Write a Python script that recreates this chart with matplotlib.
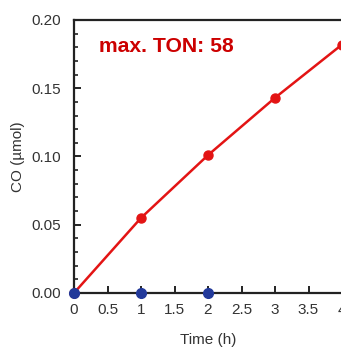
import matplotlib
matplotlib.use("Agg")
import matplotlib.pyplot as plt
from matplotlib.ticker import MultipleLocator

plt.rcParams['font.family'] = ['Liberation Sans', 'DejaVu Sans']

time_h = [0, 1, 2, 3, 4]
co_red = [0.0, 0.055, 0.101, 0.143, 0.182]
time_blue = [0, 1, 2]
co_blue = [0.0, 0.0, 0.0]
x_ticks = [0, 0.5, 1, 1.5, 2, 2.5, 3, 3.5, 4]
y_ticks = [0.00, 0.05, 0.10, 0.15, 0.20]

fig = plt.figure(figsize=(3.41, 3.47), dpi=100)
ax = fig.add_axes([74/341, 54/347, 268/341, 273/347])

red = '#e31414'
blue = '#22399a'
ax.plot(time_h, co_red, color=red, lw=1.8, marker='o', ms=6.5, clip_on=False, zorder=3)
ax.plot(time_blue, co_blue, color=blue, lw=0, marker='o', ms=7, clip_on=False, zorder=4)

ax.set_xlim(0, 4)
ax.set_ylim(0, 0.20)
ax.set_xticks(x_ticks)
ax.set_xticklabels([f"{v:g}" for v in x_ticks])
ax.set_yticks(y_ticks)
ax.set_yticklabels([f"{v:.2f}" for v in y_ticks])
ax.yaxis.set_minor_locator(MultipleLocator(0.01))

for s in ['left', 'bottom', 'top']:
    ax.spines[s].set_linewidth(1.6)
    ax.spines[s].set_color('#222222')
ax.spines['right'].set_visible(False)

ax.tick_params(axis='both', which='major', direction='in', length=5, width=1.4,
               labelsize=11, colors='#222222', labelcolor='#333333')
ax.tick_params(axis='y', which='minor', direction='in', length=3, width=1.2, colors='#222222')
ax.tick_params(axis='x', which='major', length=5, pad=7)
ax.tick_params(axis='y', pad=9)
ax.tick_params(top=False, right=False, which='both')

ax.set_xlabel('Time (h)', fontsize=11, color='#333333', labelpad=12)
ax.set_ylabel('CO (µmol)', fontsize=11, color='#333333', labelpad=5)

ax.text(0.37, 0.1805, 'max. TON: 58', color='#cc0000', fontsize=15.2, fontweight='bold',
        ha='left', va='center')

fig.savefig('out.png', dpi=100)
